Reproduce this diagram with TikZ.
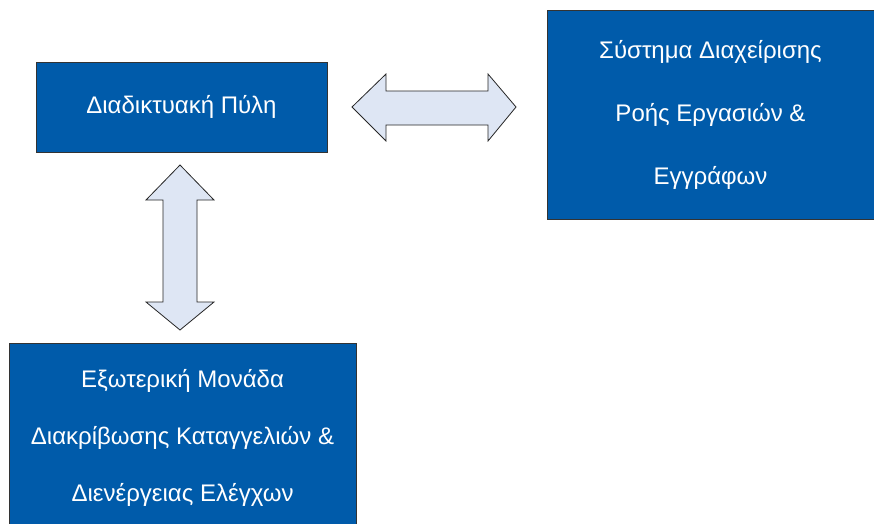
\documentclass[tikz,border=0pt]{standalone}
\usepackage{fontspec}
\usepackage{xcolor}
\setmainfont{Liberation Sans}

\definecolor{boxblue}{RGB}{0,91,170}
\definecolor{arrowfill}{RGB}{222,230,244}

\tikzset{
  unit/.style={draw=black!80, fill=boxblue, text=white, align=center, inner sep=0pt,
    font=\fontsize{24}{28}\selectfont},
  link/.style={draw=black!85, fill=arrowfill, line width=0.8pt, line join=miter}
}

\begin{document}
\begin{tikzpicture}[x=1pt,y=-1pt]
        \useasboundingbox (0,0) rectangle (874,523);
        \node[unit, minimum width=291pt, minimum height=90pt] (portal) at (181.5,107) {Διαδικτυακή Πύλη};
        \node[unit, minimum width=327pt, minimum height=209pt] (workflow) at (710.5,114.5)
            {Σύστημα Διαχείρισης\\[35pt]Ροής Εργασιών \&\\[35pt]Εγγράφων};
        \node[unit, minimum width=347pt, minimum height=190pt] (audit) at (182.5,438)
            {Εξωτερική Μονάδα\\[29pt]Διακρίβωσης Καταγγελιών \&\\[29pt]Διενέργειας Ελέγχων};

        % portal <-> workflow
        \draw[link] (352,107)--(386,74)--(386,91)--(488,91)--(488,74)--(516,107)
            --(488,141)--(488,125)--(386,125)--(386,141)--cycle;
        % portal <-> audit
        \draw[link] (180,165)--(214,200)--(197,200)--(197,302)--(214,302)--(180,330)
            --(146,302)--(163,302)--(163,200)--(146,200)--cycle;
\end{tikzpicture}
\end{document}
